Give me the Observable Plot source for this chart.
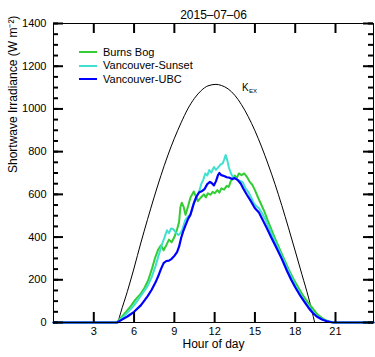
<!DOCTYPE html>
<html>
<head>
<meta charset="utf-8">
<script src="https://cdn.jsdelivr.net/npm/d3@7"></script>
<script src="https://cdn.jsdelivr.net/npm/@observablehq/plot@0.6"></script>
<style>
  body { margin: 0; background: white; }
  #wrap { position: relative; width: 375px; height: 357px; font-family: "Liberation Sans", Arial, sans-serif; }
  #legend { position: absolute; left: 79px; top: 45.5px; font-size: 11px; color: black; }
  #legend .row { height: 13.5px; line-height: 13.5px; display: flex; align-items: center; white-space: nowrap; }
  #legend .sw { width: 18px; height: 2px; margin-right: 6px; }
</style>
</head>
<body>
<div id="wrap"><div id="legend"></div></div>
<script>
// ---- data (hour of day, W m-2) ----
const seriesNames = ["Burns Bog", "Vancouver-Sunset", "Vancouver-UBC"];
const seriesColors = ["#32cd32", "#40e0d0", "#0000ff"];

const burnsBog = [[0,0],[4.7,0],[5.0,20],[5.4,50],[5.8,80],[6.1,107],[6.5,135],[6.8,165],[7.07,200],[7.3,245],[7.55,300],[7.8,342],[8.0,362],[8.2,338],[8.4,362],[8.6,388],[8.8,376],[9.0,400],[9.2,435],[9.35,470],[9.45,540],[9.55,561],[9.7,540],[9.83,504],[10.0,540],[10.2,585],[10.45,613],[10.6,590],[10.75,568],[10.9,580],[11.05,590],[11.2,600],[11.35,586],[11.5,605],[11.7,598],[11.85,612],[12.0,605],[12.2,620],[12.35,608],[12.5,628],[12.7,622],[12.9,640],[13.05,635],[13.2,662],[13.35,672],[13.5,688],[13.65,676],[13.8,698],[14.0,690],[14.2,698],[14.4,682],[14.6,660],[14.8,645],[15.0,620],[15.2,590],[15.45,555],[15.7,520],[15.95,478],[16.2,440],[16.55,385],[16.9,335],[17.15,300],[17.5,250],[17.9,200],[18.25,162],[18.55,130],[18.9,98],[19.2,74],[19.65,38],[20.15,14],[20.5,5],[20.9,0],[23.83,0]];

const vancouverSunset = [[0,0],[4.75,0],[5.0,15],[5.5,45],[6.0,80],[6.5,125],[7.0,170],[7.3,210],[7.6,265],[7.95,340],[8.1,370],[8.25,395],[8.45,432],[8.6,418],[8.75,440],[8.9,438],[9.1,422],[9.3,410],[9.45,418],[9.6,436],[9.8,478],[10.0,495],[10.2,506],[10.35,540],[10.5,570],[10.7,595],[10.85,615],[11.0,648],[11.15,668],[11.3,698],[11.45,688],[11.6,714],[11.75,702],[11.95,728],[12.1,715],[12.25,725],[12.45,740],[12.6,745],[12.7,762],[12.82,784],[12.95,758],[13.05,728],[13.2,700],[13.35,682],[13.55,676],[13.75,666],[13.95,662],[14.1,656],[14.3,628],[14.5,612],[14.7,588],[14.9,560],[15.1,545],[15.3,535],[15.5,515],[15.8,480],[16.1,435],[16.45,385],[16.8,338],[17.1,298],[17.5,240],[18.0,175],[18.5,118],[19.0,74],[19.5,36],[20.0,15],[20.5,5],[20.9,0],[23.83,0]];

const vancouverUBC = [[0,0],[4.75,0],[5.0,10],[5.5,28],[6.0,50],[6.5,80],[7.0,122],[7.3,152],[7.6,188],[7.85,225],[8.0,250],[8.2,278],[8.4,288],[8.6,290],[8.8,298],[9.0,312],[9.2,330],[9.35,355],[9.5,395],[9.65,425],[9.85,458],[10.0,482],[10.2,505],[10.45,558],[10.65,590],[10.85,610],[11.05,615],[11.25,625],[11.45,648],[11.65,658],[11.8,652],[11.95,642],[12.1,662],[12.25,690],[12.35,700],[12.5,690],[12.7,686],[12.9,680],[13.1,678],[13.3,672],[13.5,676],[13.7,668],[13.95,650],[14.15,625],[14.4,598],[14.7,568],[15.0,535],[15.3,515],[15.6,478],[15.9,440],[16.2,400],[16.6,350],[17.0,298],[17.4,240],[17.7,200],[18.0,165],[18.4,123],[18.7,95],[19.0,68],[19.3,46],[19.6,28],[20.0,14],[20.4,5],[20.8,0],[23.83,0]];

// extraterrestrial irradiance K_EX
const kex = [[4.8,0],[5.0,45],[5.5,145],[6.0,255],[6.5,372],[7.0,482],[7.5,588],[8.0,688],[8.5,780],[9.0,862],[9.5,935],[10.0,1000],[10.5,1050],[11.0,1086],[11.5,1108],[12.1,1115],[12.5,1110],[13.0,1094],[13.5,1064],[14.0,1020],[14.5,964],[15.0,898],[15.5,822],[16.0,738],[16.5,647],[17.0,548],[17.5,443],[18.0,335],[18.5,225],[19.0,115],[19.45,0]];
const kexPeak = [[12.1,1115]];

const xTicks = [3, 6, 9, 12, 15, 18, 21];
const yMajor = [0, 200, 400, 600, 800, 1000, 1200, 1400];
const yMinor = d3.range(0, 1401, 50);
const titleText = "2015–07–06";
const xLabel = "Hour of day";
const yLabel = "Shortwave Irradiance (W m⁻²)";

const X = d => d[0], Y = d => d[1], V = d => d;
const intFmt = d3.format("d");

const W = 375, H = 357, mL = 53, mR = 2, mT = 23, mB = 35;
const innerW = W - mL - mR, innerH = H - mT - mB;
const major = 10, minor = 5;
const tickW = 2;

const chart = Plot.plot({
  width: W,
  height: H,
  marginLeft: mL,
  marginRight: mR,
  marginTop: mT,
  marginBottom: mB,
  x: {domain: [0, 23.83]},
  y: {domain: [0, 1400]},
  axis: null,
  style: {fontFamily: "'Liberation Sans', Arial, sans-serif", fontSize: "11px"},
  marks: [
    Plot.line(kex, {x: X, y: Y, stroke: "black", strokeWidth: 1, curve: "monotone-x"}),
    Plot.line(burnsBog, {x: X, y: Y, stroke: seriesColors[0], strokeWidth: 2}),
    Plot.line(vancouverSunset, {x: X, y: Y, stroke: seriesColors[1], strokeWidth: 2}),
    Plot.line(vancouverUBC, {x: X, y: Y, stroke: seriesColors[2], strokeWidth: 2.2}),
    Plot.frame({stroke: "black"}),
    // inward tick marks
    Plot.tickX(xTicks, {x: V, insetTop: innerH - major, stroke: "black", strokeWidth: tickW}),
    Plot.tickX(xTicks, {x: V, insetBottom: innerH - major, stroke: "black", strokeWidth: tickW}),
    Plot.tickY(yMinor, {y: V, insetRight: innerW - minor, stroke: "black", strokeWidth: tickW}),
    Plot.tickY(yMinor, {y: V, insetLeft: innerW - minor, stroke: "black", strokeWidth: tickW}),
    Plot.tickY(yMajor, {y: V, insetRight: innerW - major, stroke: "black", strokeWidth: tickW}),
    Plot.tickY(yMajor, {y: V, insetLeft: innerW - major, stroke: "black", strokeWidth: tickW}),
    // tick labels
    Plot.axisX({anchor: "bottom", ticks: xTicks, tickSize: 0, tickPadding: 5, label: null, fontSize: 11}),
    Plot.axisY({anchor: "left", ticks: yMajor, tickSize: 0, tickPadding: 7, tickFormat: intFmt, label: null, fontSize: 11}),
    Plot.text([titleText], {frameAnchor: "top", dy: -13, fontSize: 12}),
    Plot.text([xLabel], {frameAnchor: "bottom", dy: 25, fontSize: 12}),
    Plot.text([yLabel], {frameAnchor: "left", dx: -40, rotate: -90, fontSize: 12}),
    Plot.text(kexPeak, {x: X, y: Y, text: () => "K", textAnchor: "start", dx: 26, dy: 3, fontSize: 10}),
    Plot.text(kexPeak, {x: X, y: Y, text: () => "EX", textAnchor: "start", dx: 33, dy: 7, fontSize: 6})
  ]
});

const wrap = document.getElementById("wrap");
wrap.insertBefore(chart, wrap.firstChild);

const legend = document.getElementById("legend");
seriesNames.forEach((name, i) => {
  const row = document.createElement("div");
  row.className = "row";
  const sw = document.createElement("span");
  sw.className = "sw";
  sw.style.background = seriesColors[i];
  const label = document.createElement("span");
  label.textContent = name;
  row.appendChild(sw);
  row.appendChild(label);
  legend.appendChild(row);
});
</script>
</body>
</html>
